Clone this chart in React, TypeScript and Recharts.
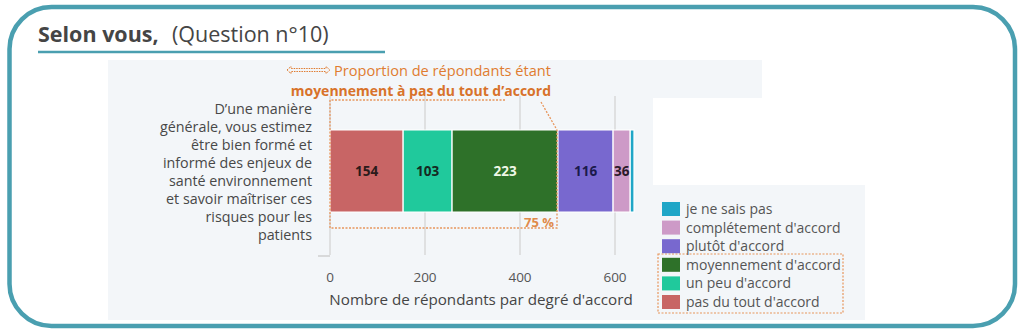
import { BarChart, Bar, XAxis, YAxis, CartesianGrid, LabelList } from 'recharts';

const SERIES = [
  "pas du tout d'accord",
  "un peu d'accord",
  "moyennement d'accord",
  "plutôt d'accord",
  "complétement d'accord",
  'je ne sais pas',
];
const KEYS = ['pasDuTout', 'unPeu', 'moyennement', 'plutot', 'completement', 'nsp'];
const VALUES = [154, 103, 223, 116, 36, 8];
const COLORS = ['#c86565', '#20c99c', '#2e7129', '#7868cf', '#cd9ac7', '#1fa6c7'];
const LABEL_COLORS = ['#2b1b1b', '#152a22', '#eef7e6', '#1b1a4c', '#2b1a2a', 'none'];
const QUESTION =
  'D’une manière\ngénérale, vous estimez\nêtre bien formé et\ninformé des enjeux de\nsanté environnement\net savoir maîtriser ces\nrisques pour les\npatients';
const X_TICKS = [0, 200, 400, 600];

const FONT = '"Open Sans", "Noto Sans", sans-serif';
const ORANGE = '#e07c30';
const TEAL = '#4a9fb0';

const data = [
  {
    question: QUESTION,
    ...Object.fromEntries(KEYS.map((k, i) => [k, VALUES[i]])),
  },
];

function QuestionTick(props: any) {
  const { x, y, payload } = props;
  const lines = String(payload.value).split('\n');
  const lh = 17.9;
  const top = y - ((lines.length - 1) * lh) / 2;
  return (
    <text x={x} y={top} textAnchor="end" fill="#484848" fontSize={14.3} dominantBaseline="central">
      {lines.map((l, i) => (
        <tspan key={i} x={x} y={top + i * lh}>
          {l}
        </tspan>
      ))}
    </text>
  );
}

export default function App() {
  const legendOrder = SERIES.map((_, i) => i).reverse();
  return (
    <div style={{ position: 'absolute', left: 0, top: 0, width: 1024, height: 335, fontFamily: FONT, background: '#fff' }}>
      <svg width={1024} height={335} style={{ position: 'absolute', left: 0, top: 0 }}>
        <rect x={108} y={60} width={654} height={260} fill="#f3f6f9" />
        <rect x={653} y={185} width={212} height={135} fill="#f3f6f9" />
        <rect x={653} y={98} width={109} height={87} fill="#ffffff" />
        <rect x={9.5} y={7} width={1005.5} height={319} rx={42} fill="none" stroke={TEAL} strokeWidth={4.5} />
        <text x={38} y={42} fontSize={21.5} fill="#454545">
          <tspan fontWeight={700}>Selon vous,</tspan>
          <tspan x={172}>(Question n°10)</tspan>
        </text>
        <line x1={38} x2={385} y1={52} y2={52} stroke={TEAL} strokeWidth={2.5} />
      </svg>

      <BarChart
        width={1024}
        height={335}
        data={data}
        layout="vertical"
        margin={{ top: 96, right: 371, bottom: 39, left: 130 }}
        style={{ position: 'absolute', left: 0, top: 0 }}
      >
        <CartesianGrid horizontal={false} stroke="#d9d9d9" strokeWidth={1.5} verticalValues={X_TICKS} />
        <XAxis
          type="number"
          domain={[0, 680]}
          ticks={X_TICKS}
          axisLine={false}
          tickLine={{ stroke: '#d9d9d9', strokeWidth: 1.5 }}
          tickSize={9}
          tickMargin={17}
          height={50}
          tick={{ fontSize: 13.5, fill: '#555' }}
        />
        <YAxis
          type="category"
          dataKey="question"
          width={200}
          axisLine={false}
          tickLine={false}
          tickMargin={12}
          tick={<QuestionTick />}
        />
        {KEYS.map((k, i) => (
          <Bar
            key={k}
            dataKey={k}
            name={SERIES[i]}
            stackId="a"
            fill={COLORS[i]}
            stroke="#ffffff"
            strokeWidth={1.2}
            barSize={82}
            isAnimationActive={false}
          >
            {i < 5 && (
              <LabelList
                dataKey={k}
                position="center"
                fill={LABEL_COLORS[i]}
                fontSize={13.5}
                fontWeight={700}
              />
            )}
          </Bar>
        ))}
      </BarChart>

      <svg width={1024} height={335} style={{ position: 'absolute', left: 0, top: 0, pointerEvents: 'none' }}>
        <path
          d="M287,70 L291,66.5 L291,68.5 L326,68.5 L326,66.5 L330,70 L326,73.5 L326,71.5 L291,71.5 L291,73.5 Z"
          fill="none"
          stroke={ORANGE}
          strokeWidth={1}
          strokeDasharray="1.5 1"
        />
        <text x={551} y={76} textAnchor="end" fontSize={14.6} fill={ORANGE}>
          Proportion de répondants étant
        </text>
        <text x={551} y={96} textAnchor="end" fontSize={14} fontWeight={700} fill="#d8722a">
          moyennement à pas du tout d’accord
        </text>
        <path
          d="M505,100 L330,100 L330,228 L557,228 L557,130"
          fill="none"
          stroke="#e8965c"
          strokeWidth={1.3}
          strokeDasharray="2 1.5"
        />
        <line x1={541} y1={102} x2={557} y2={130} stroke="#e8965c" strokeWidth={1.3} strokeDasharray="2 1.5" />
        <text x={554} y={227} textAnchor="end" fontSize={13} fontWeight={700} fill="#e08a4a">
          75 %
        </text>
        <line x1={318} x2={330} y1={256} y2={256} stroke="#cfcfcf" strokeWidth={1.5} />
        <text x={481} y={305} textAnchor="middle" fontSize={15.2} fill="#454545">
          Nombre de répondants par degré d'accord
        </text>
        <rect x={658} y={254} width={185} height={59} fill="none" stroke="#e8965c" strokeWidth={1.2} strokeDasharray="2 1.5" />
        {legendOrder.map((si, row) => (
          <g key={si}>
            <rect x={662} y={202 + row * 18.6} width={18} height={14} fill={COLORS[si]} />
            <text x={686} y={214 + row * 18.6} fontSize={14} fill="#555">
              {SERIES[si]}
            </text>
          </g>
        ))}
      </svg>
    </div>
  );
}
